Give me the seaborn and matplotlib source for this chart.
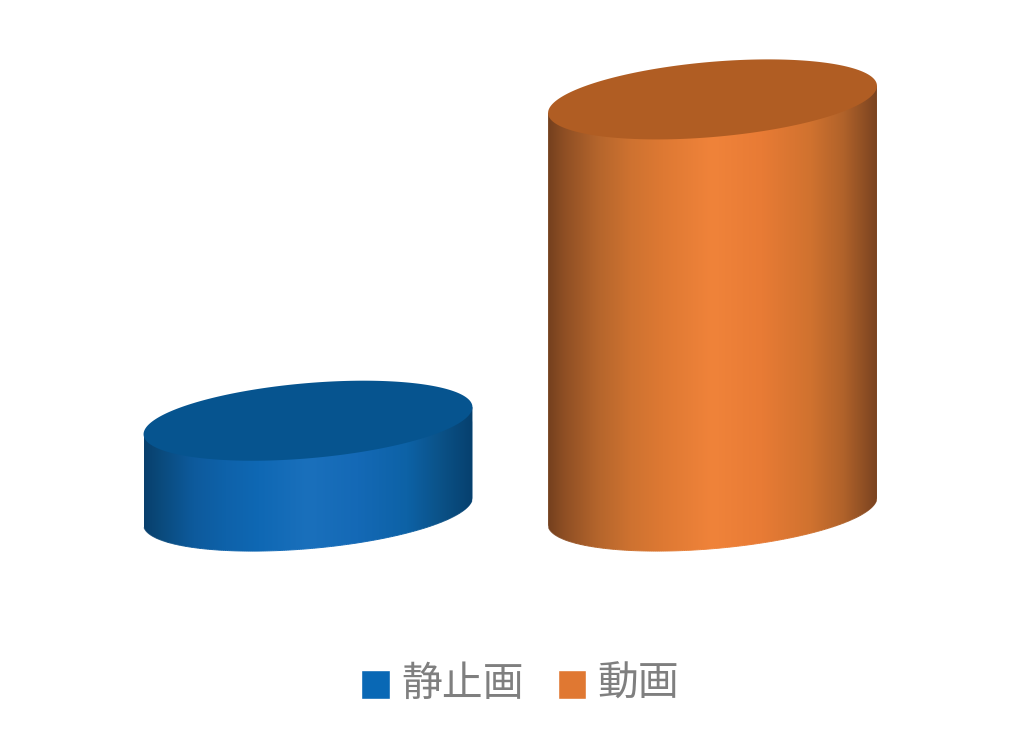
import numpy as np
import pandas as pd
import seaborn as sns
import matplotlib
matplotlib.use("Agg")
import matplotlib.pyplot as plt
from matplotlib.colors import LinearSegmentedColormap
from matplotlib.patches import Polygon
from matplotlib.collections import LineCollection

# Data
categories = ["静止画", "動画"]
values = [18, 82]

# Styles
legend_colors = ["#0968B5", "#E07832"]
cap_colors = ["#06548F", "#B05D23"]
body_stops = [0.0, 0.05, 0.15, 0.25, 0.35, 0.5, 0.65, 0.8, 0.9, 1.0]
body_colors = [
    ["#083F6C", "#0A4A7C", "#0D5A9C", "#0E62AA", "#0F68B4", "#1A70BC", "#1469B6", "#0D62A6", "#0B5288", "#06406E"],
    ["#74401E", "#8F4F24", "#B4652C", "#CE7230", "#DE7933", "#F0833A", "#E87B35", "#D0722F", "#B0622A", "#7A4320"],
]
bar_width = 0.813
cap_shear = 2.7    # vertical offset of the ellipse side points, in value units
cap_half = 7.5     # vertical half axis term, in value units

sns.set_theme(style="white")
plt.rcParams["font.family"] = ["Noto Sans CJK JP", "DejaVu Sans"]

fig = plt.figure(figsize=(10.24, 7.40), dpi=100, facecolor="white")
ax = fig.add_axes([0, 0, 1, 1])

df = pd.DataFrame({"category": categories, "value": values})
sns.barplot(data=df, x="category", y="value", hue="category", hue_order=categories,
            palette=legend_colors, width=bar_width, dodge=False, legend=True,
            saturation=1, ax=ax)

xlim = (-0.7614, 1.770)
ylim = (-45.6, 101.8)
ax.set_xlim(*xlim)
ax.set_ylim(*ylim)
ax.set_axis_off()

bars = [p for p in ax.patches if p.get_height() > 0]
bars.sort(key=lambda p: p.get_x())


def ellipse_pts(cx, cy, a, t):
    return (cx + a * np.cos(t), cy + cap_shear * np.cos(t) + cap_half * np.sin(t))


for i, bar in enumerate(bars):
    x0, w, h = bar.get_x(), bar.get_width(), bar.get_height()
    cx, a = x0 + w / 2, w / 2
    cmap = LinearSegmentedColormap.from_list("b", list(zip(body_stops, body_colors[i])), N=512)

    # side of the cylinder: front half of the base plus a chord through the cap
    t_front = np.linspace(np.pi, 2 * np.pi, 240)
    bx, by = ellipse_pts(cx, 0, a, t_front)
    tx_r, ty_r = ellipse_pts(cx, h, a, 0.0)
    tx_l, ty_l = ellipse_pts(cx, h, a, np.pi)
    body = Polygon(np.column_stack([np.r_[bx, tx_r, tx_l], np.r_[by, ty_r, ty_l]]),
                   closed=True, transform=ax.transData, fc="none", ec="none")
    ax.add_patch(body)
    bar.set_clip_path(body)

    grad = np.linspace(0, 1, 512).reshape(1, -1)
    im = ax.imshow(grad, cmap=cmap, aspect="auto", zorder=3, interpolation="bilinear",
                   extent=(x0, x0 + w, by.min() - 1, h + abs(cap_shear) + 1))
    im.set_clip_path(body)

    # smooth rim along the base
    keep = slice(6, -6)
    pts = np.column_stack([bx[keep], by[keep]]).reshape(-1, 1, 2)
    segs = np.concatenate([pts[:-1], pts[1:]], axis=1)
    rim = LineCollection(segs, colors=cmap((bx[keep][:-1] - x0) / w), linewidths=0.7,
                         zorder=3.5, capstyle="butt")
    ax.add_collection(rim)

    # top cap
    t_all = np.linspace(0, 2 * np.pi, 480)
    ex, ey = ellipse_pts(cx, h, a, t_all)
    ax.add_patch(Polygon(np.column_stack([ex, ey]), closed=True, fc=cap_colors[i],
                         ec="none", zorder=4))

ax.set_xlim(*xlim)
ax.set_ylim(*ylim)

leg = ax.legend(loc="center", bbox_to_anchor=(0.508, 1 - 684 / 740), ncol=2, frameon=False,
                fontsize=29.4, labelcolor="#7F7F7F", handlelength=0.7, handleheight=0.7,
                handletextpad=0.27, columnspacing=0.84, borderaxespad=0, borderpad=0)
for p in leg.get_patches():
    p.set_y(p.get_y() - 2.5)

fig.savefig("out.png", dpi=100, facecolor="white")
